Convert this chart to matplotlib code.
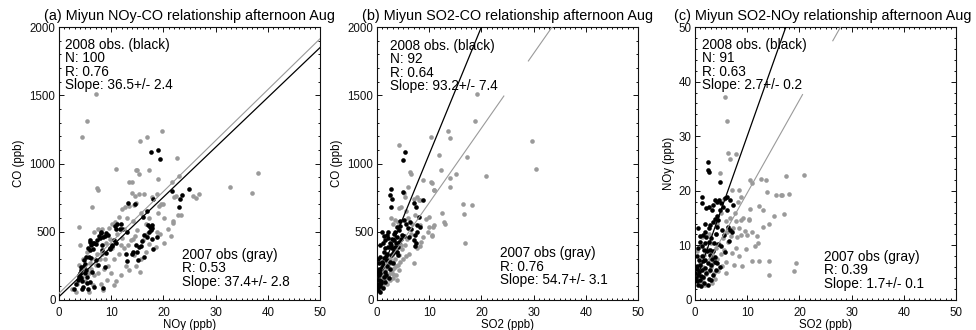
import matplotlib
matplotlib.use('Agg')
import matplotlib.pyplot as plt
from matplotlib.ticker import MultipleLocator
import numpy as np

plt.rcParams['font.family'] = ['Liberation Sans', 'DejaVu Sans']

# ---------------- data ----------------
# panel (a): NOy (x) vs CO (y)
a08 = [(17.7,1081),(19.0,1100),(19.4,1032),
       (13.2,709),(14.5,704),(18.1,741),(16.9,655),(16.0,606),(21.6,797),(24.9,812),(23.5,768),(23.2,738),(22.9,680),
       (17.1,553),(17.5,538),(17.8,548),(17.6,513),(17.9,526),(17.2,499),(16.9,465),(17.9,445),(18.7,460),(18.0,377),
       (16.3,474),(15.9,435),(14.8,401),(15.4,391),(15.7,396),(15.0,355),(16.2,318),(15.2,293),(14.1,350),(14.0,337),
       (12.9,335),(13.1,284),(13.0,496),
       (11.8,557),(11.6,518),(11.0,523),(10.8,540),(10.5,440),(10.9,420),(9.8,384),(10.1,400),(9.3,477),(9.0,490),
       (8.8,470),(8.5,462),(8.3,403),(8.2,367),(9.0,342),(8.8,245),(8.4,86),
       (7.3,440),(7.7,470),(8.1,489),(7.9,452),(7.0,410),(6.5,420),
       (6.0,440),(5.9,428),(5.6,384),(5.9,365),(6.5,370),(5.7,318),(6.1,306),(5.1,318),(5.0,264),(5.2,220),(5.4,171),
       (4.2,245),(4.3,220),(4.0,200),(3.9,170),(4.2,160),(4.0,165),(5.4,122),(5.9,134),(4.6,98),(4.5,78),(5.5,83),
       (2.8,78),(6.8,98),(5.0,196),(4.8,250),(3.6,150),(3.8,185),(4.4,140),(6.3,205),(7.0,290),(6.7,420),(6.2,400),
       (7.5,260),(9.7,370),(10.2,395),(12.0,520),(11.2,560),(3.3,120),(4.7,290),(8.0,500)]
a07 = [(3.8,533),(4.5,1191),(5.4,1315),(7.0,1508),(7.3,819),(7.5,806),(6.3,680),(10.9,963),(13.9,865),(14.6,765),
       (14.9,950),(15.6,1166),(16.8,1197),(19.7,1239),(14.7,953),(15.3,924),(17.2,953),(13.5,867),(19.0,884),
       (22.7,1043),(22.9,909),(21.7,865),(14.0,785),(15.3,773),(16.3,777),(18.8,773),(17.8,757),(22.0,751),(22.5,760),
       (25.7,764),(26.8,777),(26.3,748),(32.7,828),(37.0,787),(38.2,929),(14.8,711),(14.4,697),(19.6,704),(19.1,687),
       (18.9,638),(20.1,599),(21.9,582),(21.9,567),(23.3,623),(21.4,469),(20.1,415),
       (12.1,666),(12.6,684),(13.5,690),(11.5,610),(10.2,560),(9.5,525),(7.5,520),(6.7,500),(8.3,520),(10.8,575),
       (11.2,480),(12.0,455),(13.8,440),(14.5,470),(15.0,510),(16.6,560),(17.2,600),(15.8,640),(14.2,580),(13.0,600),
       (12.5,520),(9.7,450),(9.0,420),(8.2,340),(7.8,300),(7.0,260),(6.2,230),(5.7,195),(6.8,180),(7.5,200),(8.6,230),
       (9.4,250),(10.5,300),(11.4,340),(12.4,380),(13.3,400),(14.3,330),(15.8,300),(16.6,350),(17.3,410),(18.5,390),
       (19.4,480),(10.0,200),(11.0,140),(11.8,180),(9.2,150),(8.0,120),(6.5,110),(5.0,140),(4.4,170),(3.5,120),
       (3.9,260),(4.6,300),(5.3,355),(4.1,400),(8.5,70),(10.5,110),(12.8,250),(13.5,220),(8.8,300),(7.2,340),(6.0,270),
       (11.8,400),(10.2,380),(16.0,440),(18.7,500),(3.2,60),(2.5,80),(5.8,60),(14.8,250),(15.5,205),(16.9,480),
       (14.1,450),(20.8,520),(22.8,620),(19.9,700)]

# panel (b): SO2 (x) vs CO (y)
b08 = [(5.4,1082),(5.0,1026),(2.6,811),(2.4,770),(2.9,738),(2.6,679),(4.9,794),(8.9,733),(7.0,713),(7.5,679),
       (8.0,611),(7.7,550),(8.2,537),(7.7,501),(7.2,476),(7.0,440),(7.3,396),(5.9,525),(3.8,537),(4.2,513),(4.5,542),
       (3.5,501),(3.2,484),(5.1,586),(1.9,476),(2.2,452),(1.6,440),(2.4,415),(1.0,501),(3.5,391),(3.8,354),(3.1,347),
       (4.2,428),(1.3,354),(0.6,318),(1.4,305),(1.9,293),(0.3,269),(1.0,244),(0.1,208),(0.5,195),(1.3,171),(1.6,208),
       (0.3,147),(0.8,122),(0.2,98),(1.1,86),(0.5,60),(0.2,75),(2.6,400),(2.9,380),(2.2,390),(3.2,360),(4.8,476),
       (6.1,464),(4.6,450),(5.2,470),(3.9,460),(2.7,330),(2.0,340),(1.7,320),(2.4,280),(1.2,260),(0.8,230),(0.4,180),
       (1.9,250),(2.5,230),(0.2,300),(0.6,400),(1.6,380),(2.8,450),(4.4,580),(3.6,420),(2.1,500),(1.1,420),(0.7,140),
       (1.5,130),(0.1,120),(5.6,560),(6.6,520),(4.1,330),(3.0,270),(0.9,280),(0.3,230),(1.8,180),(2.3,160),(0.5,100),
       (6.3,575),(7.5,420),(3.3,440),(4.0,390),(1.4,470)]
b07 = [(4.3,1136),(6.4,941),(6.5,923),(10.4,1197),(13.6,1235),(13.9,1186),(18.8,1315),(19.2,1508),(11.9,1059),
       (17.3,1044),(12.3,954),(15.1,924),(20.9,912),(29.6,1166),(30.4,961),(10.4,863),(8.9,879),(10.9,807),(11.0,806),
       (13.9,826),(14.0,892),(16.5,704),(18.2,697),(16.6,631),(16.9,416),(12.5,636),(12.8,575),(13.0,557),(11.0,550),
       (10.7,538),(9.9,611),(10.6,472),(8.3,550),(9.8,501),(8.5,423),(7.0,269),(8.2,733),(7.7,757),(8.0,733),(7.0,740),
       (5.9,831),(5.1,782),(5.4,757),(4.2,672),(4.6,679),(3.4,587),(4.0,575),(10.5,855),(9.9,537),(8.9,464),(10.5,476),
       (8.2,396),(6.1,340),(5.6,320),(5.0,300),(4.5,280),(4.0,260),(3.6,250),(3.2,235),(2.9,220),(2.6,205),(2.3,190),
       (2.0,175),(1.7,160),(1.4,140),(1.1,120),(0.8,100),(3.1,159),(3.8,147),(1.1,98),(3.5,300),(3.0,280),(2.6,270),
       (2.2,250),(1.8,230),(4.3,330),(4.8,370),(5.3,400),(3.9,350),(2.5,300),(3.0,190),(2.5,150),(2.0,120),(1.5,200),
       (1.0,180),(0.5,130),(5.8,450),(6.5,480),(6.0,600),(5.5,650),(3.0,560),(2.6,600),(7.3,620),(6.8,560),(9.3,590),
       (4.2,220),(3.6,180),(1.9,270),(2.8,330),(0.3,80),(0.6,160),(4.6,400),(7.6,380)]

# panel (c): SO2 (x) vs NOy (y)
c08 = [(2.55,25.2),(2.4,23.8),(2.7,23.4),(1.3,18.8),(1.4,17.8),(4.8,21.7),(3.8,18.3),(4.2,18.0),(4.6,18.4),(5.0,17.7),
       (5.7,18.6),(6.1,18.8),(3.5,17.4),(3.2,16.5),(2.6,17.1),(2.2,16.8),(1.9,14.0),(0.6,13.1),(2.8,13.8),(2.6,13.2),
       (4.2,15.3),(3.8,14.8),(4.8,16.5),(5.4,17.1),(6.1,16.5),(6.7,18.3),(7.2,17.4),(2.2,11.6),(2.6,10.7),(1.9,10.4),
       (1.4,9.8),(0.6,9.5),(2.9,9.2),(3.5,8.9),(3.8,7.9),(4.2,6.7),(4.8,6.1),(6.4,13.4),(6.7,12.8),(5.1,12.8),(4.2,13.4),
       (1.3,8.0),(1.6,7.1),(1.0,6.5),(0.3,6.2),(1.3,5.5),(1.9,5.8),(0.0,4.9),(0.6,4.6),(1.0,3.7),(0.3,3.4),(1.6,4.3),
       (2.2,4.9),(2.9,5.5),(2.6,3.9),(0.5,2.8),(0.2,4.0),(0.8,5.2),(1.1,2.5),(2.0,7.3),(2.5,6.7),(3.0,6.4),(3.3,7.6),
       (2.8,8.3),(2.3,8.9),(1.7,9.1),(1.0,10.6),(1.5,11.9),(3.1,11.3),(3.6,10.5),(4.0,12.0),(5.6,11.9),(4.4,10.3),
       (3.5,4.6),(4.1,5.5),(0.3,8.0),(0.9,11.8),(2.0,12.4),(3.4,14.2),(4.5,14.7),(5.0,9.8),(5.8,8.7),(6.6,10.8),
       (7.0,12.5),(0.4,5.6),(1.2,4.4),(1.8,3.2),(2.4,2.8),(3.9,6.9),(3.1,3.6),(0.7,7.4)]
c07 = [(5.7,37.2),(6.1,32.7),(6.3,27.0),(6.7,25.8),(7.8,26.7),(4.8,23.3),(10.5,21.9),(10.9,21.4),(12.6,22.1),
       (13.6,22.0),(17.4,22.8),(20.9,22.9),(13.7,19.8),(15.6,19.2),(16.4,19.3),(16.7,19.2),(18.0,19.4),(8.5,20.2),
       (8.9,18.9),(8.2,18.0),(10.5,16.7),(12.2,17.3),(10.4,14.9),(10.4,14.6),(15.2,15.3),(17.1,15.8),(14.2,13.9),
       (13.1,13.4),(9.9,11.9),(11.0,12.4),(11.8,11.7),(10.9,7.2),(12.2,7.2),(14.1,7.2),(14.1,4.5),(19.4,6.8),(19.0,5.3),
       (9.2,15.0),(8.9,14.7),(8.9,11.9),(8.0,11.6),(6.4,10.7),(7.0,8.6),(3.8,3.8),(7.6,16.0),(6.8,15.0),(5.9,14.5),
       (7.3,13.2),(6.2,12.5),(5.3,11.3),(4.6,10.2),(5.6,9.2),(4.9,8.4),(4.2,7.6),(3.5,6.8),(3.0,6.0),(2.6,5.3),(2.1,4.8),
       (1.6,4.0),(1.2,3.5),(0.8,3.0),(4.0,9.5),(3.3,8.5),(2.8,7.5),(6.0,7.0),(5.2,6.2),(4.4,5.4),(3.6,5.0),(7.9,9.6),
       (6.9,11.8),(8.4,13.1),(9.5,12.6),(5.0,16.0),(4.0,12.1),(3.0,10.4),(2.3,9.3),(1.8,8.2),(1.0,7.0),(0.5,5.5),
       (0.3,9.0),(1.4,11.5),(2.7,12.0),(6.0,5.0),(7.4,6.5),(8.5,8.0),(5.5,18.5),(7.0,20.1),(4.2,14.0),(9.8,9.4),
       (11.5,9.9),(2.0,2.8),(3.2,3.2),(1.5,6.0),(0.6,4.5),(13.0,16.5),(7.8,14.5),(12.0,10.5),(9.0,6.2)]

# regression lines: (slope, intercept) and x extents of the drawn segments
fit_a08 = (36.5, 24);  seg_a08 = [(0, 50)]
fit_a07 = (37.3, 49);  seg_a07 = [(0, 50)]
fit_b08 = (93.2, 136); seg_b08 = [(0, 25)]
fit_b07 = (54.7, 165); seg_b07 = [(1.0, 24.3), (29.0, 40)]
fit_c08 = (2.7, 3.0);  seg_c08 = [(0, 20)]
fit_c07 = (1.7, 2.6);  seg_c07 = [(3.0, 20.6), (26.4, 35)]

titles = ["(a) Miyun NOy-CO relationship afternoon Aug",
          "(b) Miyun SO2-CO relationship afternoon Aug",
          "(c) Miyun SO2-NOy relationship afternoon Aug"]
xlabels = ["NOy (ppb)", "SO2 (ppb)", "SO2 (ppb)"]
ylabels = ["CO (ppb)", "CO (ppb)", "NOy (ppb)"]
text08 = ["2008 obs. (black)\nN: 100\nR: 0.76\nSlope: 36.5+/- 2.4",
          "2008 obs. (black)\nN: 92\nR: 0.64\nSlope: 93.2+/- 7.4",
          "2008 obs. (black)\nN: 91\nR: 0.63\nSlope: 2.7+/- 0.2"]
text07 = ["2007 obs (gray)\nR: 0.53\nSlope: 37.4+/- 2.8",
          "2007 obs (gray)\nR: 0.76\nSlope: 54.7+/- 3.1",
          "2007 obs (gray)\nR: 0.39\nSlope: 1.7+/- 0.1"]
ymax = [2000, 2000, 50]
ymajor = [500, 500, 10]
yminor = [100, 100, 2]

# ---------------- layout / style ----------------
W, H = 976, 330
GRAY = '#9a9a9a'
lefts_px = [59, 377, 695]
ax_w, ax_h, ax_bottom = 261, 273, 30
t08_pos = [(0.023, 0.960), (0.050, 0.956), (0.027, 0.960)]
t07_pos = [(0.471, 0.191), (0.471, 0.197), (0.494, 0.184)]
ylab_x = [-0.155, -0.152, -0.098]
title_x = [0.5, 0.5, 0.488]

fig = plt.figure(figsize=(W / 100, H / 100), dpi=100)

series = [(a08, a07, fit_a08, seg_a08, fit_a07, seg_a07),
          (b08, b07, fit_b08, seg_b08, fit_b07, seg_b07),
          (c08, c07, fit_c08, seg_c08, fit_c07, seg_c07)]

for i, (d08, d07, f08, s08, f07, s07) in enumerate(series):
    ax = fig.add_axes([lefts_px[i] / W, ax_bottom / H, ax_w / W, ax_h / H])
    x07, y07 = zip(*d07)
    x08, y08 = zip(*d08)
    ax.scatter(x07, y07, s=11, c=GRAY, linewidths=0, zorder=2)
    ax.scatter(x08, y08, s=11, c='black', linewidths=0, zorder=3)
    for (x0, x1) in s07:
        xs = np.array([x0, x1])
        ax.plot(xs, f07[0] * xs + f07[1], color=GRAY, lw=0.8, zorder=4)
    for (x0, x1) in s08:
        xs = np.array([x0, x1])
        ax.plot(xs, f08[0] * xs + f08[1], color='black', lw=0.9, zorder=4)

    ax.set_xlim(0, 50)
    ax.set_ylim(0, ymax[i])
    ax.xaxis.set_major_locator(MultipleLocator(10))
    ax.xaxis.set_minor_locator(MultipleLocator(1))
    ax.yaxis.set_major_locator(MultipleLocator(ymajor[i]))
    ax.yaxis.set_minor_locator(MultipleLocator(yminor[i]))
    ax.tick_params(which='both', direction='in', top=True, right=True, width=0.7, colors='#111111')
    ax.tick_params(which='major', length=3.6, labelsize=8.3)
    ax.tick_params(which='minor', length=1.5)
    ax.tick_params(axis='x', which='major', pad=5.0)
    ax.tick_params(axis='y', which='major', pad=2.5)
    for sp in ax.spines.values():
        sp.set_linewidth(0.8)
        sp.set_color('#111111')

    t = ax.set_title(titles[i], fontsize=10.4, pad=5)
    t.set_x(title_x[i])
    ax.set_xlabel(xlabels[i], fontsize=8.3)
    ax.xaxis.set_label_coords(0.5, -0.071)
    ax.set_ylabel(ylabels[i], fontsize=8.3, va='center')
    ax.yaxis.set_label_coords(ylab_x[i], 0.5)

    ax.text(t08_pos[i][0], t08_pos[i][1], text08[i], transform=ax.transAxes,
            ha='left', va='top', fontsize=9.8, linespacing=0.95, zorder=5)
    ax.text(t07_pos[i][0], t07_pos[i][1], text07[i], transform=ax.transAxes,
            ha='left', va='top', fontsize=9.8, linespacing=0.95, zorder=5)

fig.savefig('out.png', dpi=100)
